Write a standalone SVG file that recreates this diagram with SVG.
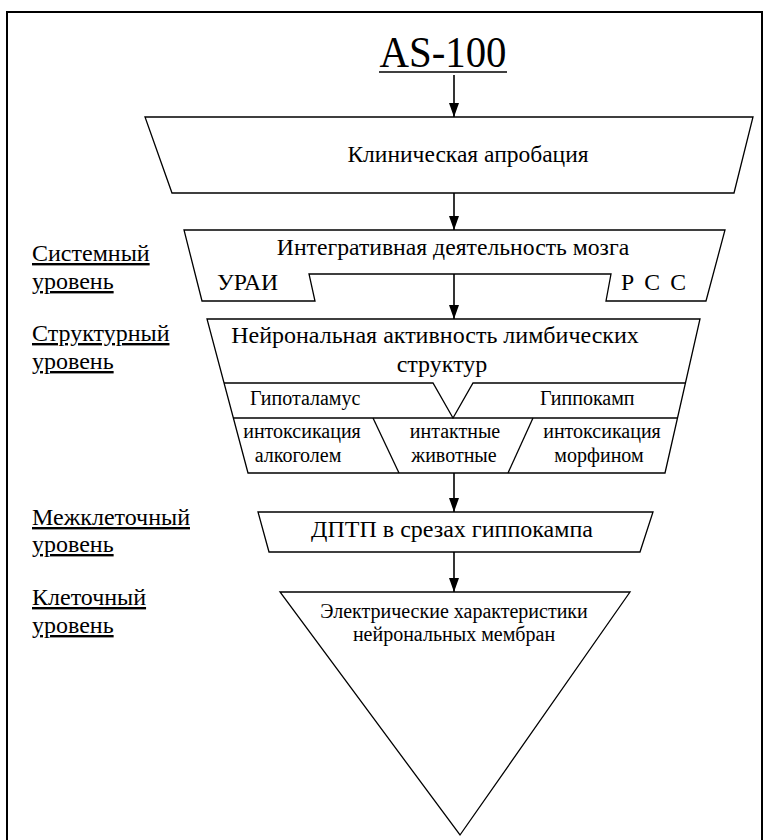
<svg xmlns="http://www.w3.org/2000/svg" width="766" height="840" viewBox="0 0 766 840">
<style>
text{font-family:"Liberation Serif","DejaVu Serif","Times New Roman",serif;fill:#000}
.s{fill:#fff;stroke:#000;stroke-width:1.3}
.l{fill:none;stroke:#000;stroke-width:1.3}
.c{stroke:#000;stroke-width:1.6;fill:none}
.lab{font-size:24px;text-decoration:underline}
.m{text-anchor:middle}
</style>
<defs>
<marker id="ah" markerWidth="14" markerHeight="10" refX="14" refY="5" orient="auto" markerUnits="userSpaceOnUse" viewBox="0 0 14 10">
<path d="M0,0 L14,5 L0,10 Z" fill="#000"/>
</marker>
</defs>
<rect x="0" y="0" width="766" height="840" fill="#fff"/>
<rect x="7" y="12" width="755" height="840" fill="none" stroke="#000" stroke-width="2"/>

<g id="title">
<text x="443" y="67" font-size="45" class="m" textLength="127" lengthAdjust="spacingAndGlyphs">AS-100</text>
<line x1="379" y1="72" x2="507" y2="72" stroke="#000" stroke-width="1.6"/>
</g>

<g id="labels">
<text class="lab" x="32" y="261">Системный</text>
<text class="lab" x="32" y="289">уровень</text>
<text class="lab" x="32" y="341">Структурный</text>
<text class="lab" x="32" y="369">уровень</text>
<text class="lab" x="32" y="525">Межклеточный</text>
<text class="lab" x="32" y="552">уровень</text>
<text class="lab" x="32" y="605">Клеточный</text>
<text class="lab" x="32" y="633">уровень</text>
</g>

<g id="clinical">
<polygon class="s" points="145,117 753,117 734,193 172,193"/>
<text x="468" y="162" font-size="23.5" class="m">Клиническая апробация</text>
</g>

<g id="system">
<polygon class="s" points="184,230 725,230 706,301 606,301 611,274 309,274 315,301 202,301"/>
<text x="453" y="255" font-size="23.7" class="m">Интегративная деятельность мозга</text>
<text x="217" y="290" font-size="23.7">УРАИ</text>
<text x="621" y="290" font-size="23.7" textLength="65">Р С С</text>
</g>

<g id="structural">
<polygon class="s" points="207,319 700,319 665,473 248,473"/>
<polyline class="l" points="224,383 433,383 453,418 473,383 686,383"/>
<line class="l" x1="233" y1="418" x2="678" y2="418"/>
<line class="l" x1="373" y1="418" x2="399" y2="473"/>
<line class="l" x1="533" y1="418" x2="508" y2="473"/>
<text x="435" y="343" font-size="24" class="m">Нейрональная  активность лимбических</text>
<text x="442" y="372" font-size="24" class="m">структур</text>
<text x="250" y="405" font-size="20">Гипоталамус</text>
<text x="540" y="405" font-size="20">Гиппокамп</text>
<text x="302" y="438" font-size="20" class="m">интоксикация</text>
<text x="298" y="462" font-size="20" class="m">алкоголем</text>
<text x="455" y="438" font-size="20" class="m">интактные</text>
<text x="454" y="462" font-size="20" class="m">животные</text>
<text x="602" y="438" font-size="20" class="m">интоксикация</text>
<text x="599" y="462" font-size="20" class="m">морфином</text>
</g>

<g id="intercellular">
<polygon class="s" points="258,512 653,512 640,552 269,552"/>
<text x="452" y="537" font-size="24" class="m">ДПТП в срезах гиппокампа</text>
</g>

<g id="cellular">
<polygon class="s" points="280,592 630,592 460,835"/>
<text x="454" y="618" font-size="20" class="m">Электрические характеристики</text>
<text x="454" y="641" font-size="20" class="m">нейрональных мембран</text>
</g>

<g id="connectors">
<line class="c" x1="454" y1="75" x2="454" y2="117" marker-end="url(#ah)"/>
<line class="c" x1="454" y1="193" x2="454" y2="230" marker-end="url(#ah)"/>
<line class="c" x1="454" y1="274" x2="454" y2="319" marker-end="url(#ah)"/>
<line class="c" x1="454" y1="473" x2="454" y2="512" marker-end="url(#ah)"/>
<line class="c" x1="454" y1="552" x2="454" y2="592" marker-end="url(#ah)"/>
</g>
</svg>
